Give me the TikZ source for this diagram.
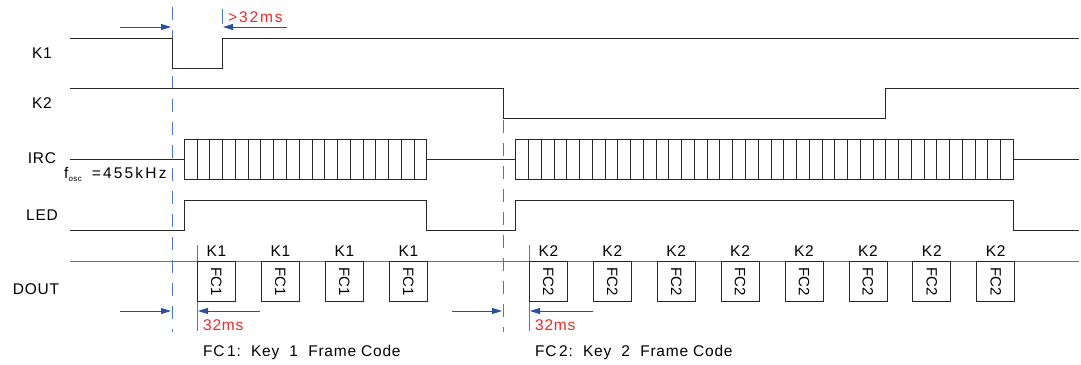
\documentclass[tikz,border=0pt]{standalone}
\usepackage{fontspec}
\setmainfont{Liberation Sans}[LetterSpace=5]
\usetikzlibrary{arrows.meta}
\definecolor{dashblue}{RGB}{74,118,196}
\definecolor{arrblue}{RGB}{40,80,160}
\definecolor{txtred}{RGB}{240,40,40}
\definecolor{wavecol}{RGB}{40,40,40}
\begin{document}
\begin{tikzpicture}[x=1pt,y=-1pt,
  wave/.style={draw=wavecol,line width=0.8pt},
  dline/.style={draw=gray!90!black,line width=0.9pt},
  vdash/.style={draw=dashblue,line width=0.9pt,dash pattern=on 13pt off 10pt},
  vtick/.style={draw=dashblue,line width=0.9pt},
  dimarrow/.style={draw=arrblue,line width=0.8pt,-{Triangle[length=10pt,width=6pt]}},
  txt/.style={inner sep=0pt,font=\fontsize{15.5}{17}\selectfont},
  redtxt/.style={txt,text=txtred},
  fcbox/.style={draw=wavecol,line width=0.8pt,fill=white,minimum width=38pt,minimum height=40pt,inner sep=0pt,anchor=north west},
  fctxt/.style={inner sep=0pt,font=\fontsize{15}{16}\selectfont\addfontfeature{LetterSpace=0},rotate=-90},
]
\useasboundingbox (0,0) rectangle (1081,364);
% signal names
\node[txt] (lk1) at (42,53) {K1};
\node[txt] (lk2) at (42,103) {K2};
\node[txt] (lirc) at (42,158) {IRC};
\node[txt] (lled) at (42,215) {LED};
\node[txt] (ldout) at (36,289) {DOUT};
\node[txt,anchor=west] (fosc) at (64,174) {f\raisebox{-3pt}{\fontsize{8}{8}\selectfont osc}\ \ {\addfontfeature{LetterSpace=14}=455kHz}};
% dashed markers
\draw[vdash] (172,7) -- (172,332);
\draw[vdash] (503,120) -- (503,332);
\draw[vtick] (222,9) -- (222,24);
\draw[vtick] (197,245) -- (197,331);
\draw[vtick] (529,245) -- (529,331);
% K1
\draw[wave] (70,38) -- (172,38) -- (172,68) -- (222,68) -- (222,38) -- (1079,38);
% K2
\draw[wave] (70,88) -- (503,88) -- (503,118) -- (885,118) -- (885,88) -- (1079,88);
% IRC
\draw[wave] (70,159) -- (184.3,159);
\foreach \i in {0,...,18} \draw[wave] ({184.3+\i*12.76},139) rectangle ++(12.76,40);
\draw[wave] (426.7,159) -- (515.7,159);
\foreach \i in {0,...,38} \draw[wave] ({515.7+\i*12.76},139) rectangle ++(12.76,40);
\draw[wave] (1013.3,159) -- (1079,159);
% LED
\draw[wave] (70,230) -- (184.3,230) -- (184.3,200) -- (426.7,200) -- (426.7,230) -- (515.7,230) -- (515.7,200) -- (1013.3,200) -- (1013.3,230) -- (1079,230);
% DOUT
\draw[dline] (70,261) -- (1079,261);
\foreach \i in {0,...,3} {
  \node[fcbox] (fa\i) at ({197+64*\i},261) {};
  \node[fctxt] (fat\i) at (fa\i.center) {FC1};
  \node[txt] (fak\i) at ([yshift=10pt]fa\i.north) {K1};
}
\foreach \i in {0,...,7} {
  \node[fcbox] (fb\i) at ({529+63.9*\i},261) {};
  \node[fctxt] (fbt\i) at (fb\i.center) {FC2};
  \node[txt] (fbk\i) at ([yshift=10pt]fb\i.north) {K2};
}
% dimension arrows
\coordinate (a1s) at (120,27); \coordinate (a1e) at (171,27);
\coordinate (a2s) at (287,27); \coordinate (a2e) at (223,27);
\coordinate (a3s) at (120,311); \coordinate (a3e) at (171,311);
\coordinate (a4s) at (260,311); \coordinate (a4e) at (198,311);
\coordinate (a5s) at (452,311); \coordinate (a5e) at (502,311);
\coordinate (a6s) at (593,311); \coordinate (a6e) at (530,311);
\draw[dimarrow] (a1s) -- (a1e);
\draw[dimarrow] (a2s) -- (a2e);
\draw[dimarrow] (a3s) -- (a3e);
\draw[dimarrow] (a4s) -- (a4e);
\draw[dimarrow] (a5s) -- (a5e);
\draw[dimarrow] (a6s) -- (a6e);
\node[redtxt,anchor=west,font=\fontsize{15.5}{17}\selectfont\addfontfeature{LetterSpace=12}] (t32a) at (228,17) {>32ms};
\node[redtxt,anchor=west] (t32b) at (203,325) {32ms};
\node[redtxt,anchor=west] (t32c) at (535,325) {32ms};
% legend
\node[txt,anchor=west] (leg1) at (203,352) {FC\,1:\ \ Key\ \ 1\ \ Frame Code};
\node[txt,anchor=west] (leg2) at (535,352) {FC\,2:\ \ Key\ \ 2\ \ Frame Code};
\end{tikzpicture}
\end{document}
